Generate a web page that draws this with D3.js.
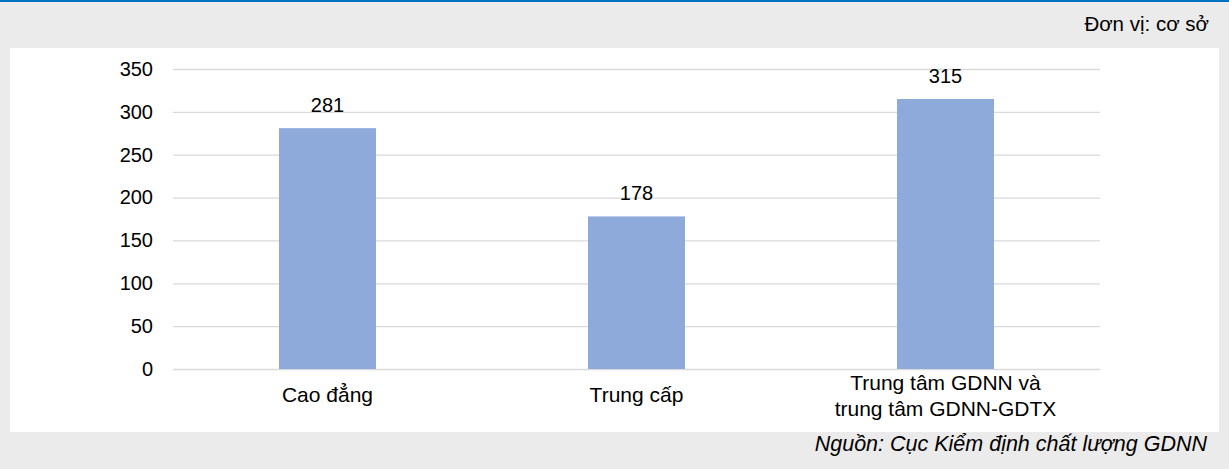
<!DOCTYPE html>
<html>
<head>
<meta charset="utf-8">
<script src="https://cdn.jsdelivr.net/npm/d3@7/dist/d3.min.js"></script>
<style>
  html, body { margin: 0; padding: 0; background: #ebebeb; }
  svg { display: block; font-family: "Liberation Sans", Arial, sans-serif; }
</style>
</head>
<body>
<svg id="chart" width="1229" height="469"></svg>
<script>
// Number of vocational training institutions by type
const categories = [["Cao đẳng"], ["Trung cấp"], ["Trung tâm GDNN và", "trung tâm GDNN-GDTX"]];
const values = [281, 178, 315];
const yTicks = [0, 50, 100, 150, 200, 250, 300, 350];
const unitLabel = "Đơn vị: cơ sở";
const sourceLabel = "Nguồn: Cục Kiểm định chất lượng GDNN";

const W = 1229, H = 469;
const FONT = "Liberation Sans, Arial, sans-serif";
const svg = d3.select("#chart");

// page background and top rule
svg.append("rect").attr("width", W).attr("height", H).attr("fill", "#ebebeb");
svg.append("rect").attr("x", 0).attr("y", 0).attr("width", W).attr("height", 2).attr("fill", "#0070c0");

// white chart panel
svg.append("rect").attr("x", 10).attr("y", 48).attr("width", 1209).attr("height", 384).attr("fill", "#ffffff");

const plot = { left: 173, right: 1100, top: 69, bottom: 369 };

const x = d3.scaleBand()
  .domain(categories.map((d, i) => i))
  .range([plot.left, plot.right])
  .paddingInner(0.686)
  .paddingOuter(0.343);

const y = d3.scaleLinear().domain([0, 350]).range([plot.bottom, plot.top]);

// horizontal gridlines with tick labels
const yAxis = d3.axisLeft(y).tickValues(yTicks).tickSize(-(plot.right - plot.left)).tickPadding(20);
const gy = svg.append("g").attr("transform", `translate(${plot.left},0)`).call(yAxis);
gy.select(".domain").remove();
gy.selectAll(".tick line").attr("stroke", "#d9d9d9").attr("stroke-width", 1.3);
gy.selectAll(".tick text").attr("font-size", 20).attr("fill", "#000").attr("font-family", FONT);

// bars
svg.append("g").selectAll("rect").data(values).join("rect")
  .attr("x", (d, i) => x(i))
  .attr("y", d => y(d))
  .attr("width", x.bandwidth())
  .attr("height", d => y(0) - y(d))
  .attr("fill", "#8eaadb");

// value labels above the bars
svg.append("g").selectAll("text").data(values).join("text")
  .attr("x", (d, i) => x(i) + x.bandwidth() / 2)
  .attr("y", d => y(d) - 16)
  .attr("text-anchor", "middle")
  .attr("font-size", 20)
  .attr("fill", "#000")
  .text(d => d);

// category labels
const cat = svg.append("g").selectAll("text").data(categories).join("text")
  .attr("x", (d, i) => x(i) + x.bandwidth() / 2)
  .attr("y", d => d.length > 1 ? 390 : 402)
  .attr("text-anchor", "middle")
  .attr("font-size", 21)
  .attr("fill", "#000");
cat.selectAll("tspan").data(d => d).join("tspan")
  .attr("x", function () { return d3.select(this.parentNode).attr("x"); })
  .attr("dy", (d, i) => i === 0 ? 0 : 26)
  .text(d => d);

// unit note and source
svg.append("text").attr("x", 1209).attr("y", 31).attr("text-anchor", "end")
  .attr("font-size", 20.5).attr("fill", "#000").text(unitLabel);
svg.append("text").attr("x", 1207).attr("y", 451).attr("text-anchor", "end")
  .attr("font-size", 21.5).attr("font-style", "italic").attr("fill", "#000").text(sourceLabel);
</script>
</body>
</html>
